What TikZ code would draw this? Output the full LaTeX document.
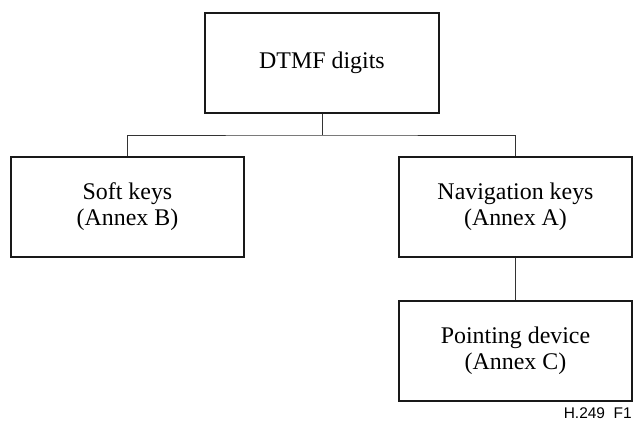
\documentclass[tikz,border=0pt]{standalone}
\usepackage{fontspec}
\setmainfont{Liberation Serif}
\newfontfamily\labelfont{Liberation Sans}
\tikzset{
	box/.style={draw=black!90,line width=1.4pt,minimum width=5.8cm,minimum height=2.5cm,align=center,font=\fontsize{17}{18.5}\selectfont},
	link/.style={draw=black!80,line width=0.6pt}
}
\begin{document}
\begin{tikzpicture}[x=0.025cm,y=-0.025cm]
		\useasboundingbox (0,0) rectangle (634,424);
		\node[box,minimum width=5.85cm] (dtmf) at (322,62.75) {DTMF digits};
		\node[box] (soft) at (127.5,207) {Soft keys\\(Annex B)};
		\node[box] (nav) at (515.5,207) {Navigation keys\\(Annex A)};
		\node[box] (point) at (515.5,350.75) {Pointing device\\(Annex C)};
		\coordinate (bus) at (322,135);
		\draw[link] (dtmf.south) -- (bus);
		\draw[link] (soft.north) |- (bus) -| (nav.north);
		\draw[link] (nav.south) -- (point.north);
		\node[anchor=base east,inner sep=0pt,font=\labelfont\fontsize{11}{12}\selectfont] (fig) at (632,418) {H.249\ \ F1};
\end{tikzpicture}
\end{document}
